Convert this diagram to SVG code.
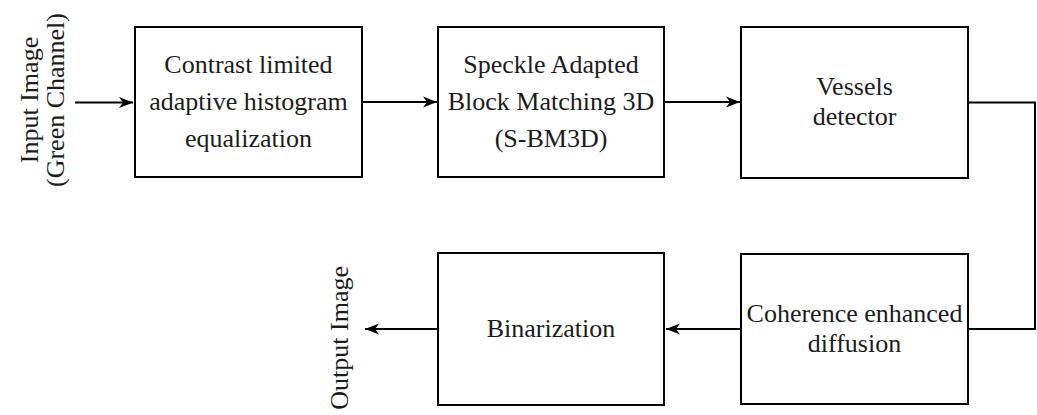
<svg xmlns="http://www.w3.org/2000/svg" width="1037" height="415" viewBox="0 0 1037 415">
  <style>
    .box { fill: #ffffff; stroke: #000000; stroke-width: 2; }
    .wire { fill: none; stroke: #000000; stroke-width: 2; }
    .lbl { font-size: 26px; fill: #1c1c1c; text-anchor: middle; }
  </style>
  <defs>
    <marker id="stealth" markerUnits="userSpaceOnUse" markerWidth="18" markerHeight="14" refX="0" refY="0" viewBox="-16 -7 18 14" orient="auto" overflow="visible">
      <path d="M0,0 L-14,-5.5 L-10,0 L-14,5.5 Z" fill="#000000"/>
    </marker>
  </defs>

  <rect width="1037" height="415" fill="#ffffff"/>

  <g font-family="'Liberation Serif', 'Times New Roman', serif">
    <!-- input / output side labels -->
    <g id="input-label">
      <text class="lbl" transform="translate(38,100) rotate(-90)">Input Image</text>
      <text class="lbl" transform="translate(64,100) rotate(-90)">(Green Channel)</text>
    </g>
    <g id="output-label">
      <text class="lbl" style="text-anchor:end" transform="translate(348,266) rotate(-90)">Output Image</text>
    </g>

    <!-- processing blocks -->
    <g id="clahe">
      <rect class="box" x="135" y="27" width="227" height="150"/>
      <text class="lbl" x="248.5" y="73">Contrast limited</text>
      <text class="lbl" x="248.5" y="110">adaptive histogram</text>
      <text class="lbl" x="248.5" y="147">equalization</text>
    </g>
    <g id="sbm3d">
      <rect class="box" x="438" y="27" width="226" height="150"/>
      <text class="lbl" x="551" y="73">Speckle Adapted</text>
      <text class="lbl" x="551" y="110">Block Matching 3D</text>
      <text class="lbl" x="551" y="147">(S-BM3D)</text>
    </g>
    <g id="vessels">
      <rect class="box" x="741" y="27" width="227" height="151"/>
      <text class="lbl" x="854.5" y="95">Vessels</text>
      <text class="lbl" x="854.5" y="125">detector</text>
    </g>
    <g id="coherence">
      <rect class="box" x="741" y="254" width="227" height="150"/>
      <text class="lbl" x="854.5" y="322">Coherence enhanced</text>
      <text class="lbl" x="854.5" y="352">diffusion</text>
    </g>
    <g id="binarization">
      <rect class="box" x="438" y="253" width="226" height="152"/>
      <text class="lbl" x="551" y="337">Binarization</text>
    </g>
  </g>

  <!-- connectors -->
  <g id="connectors">
    <line class="wire" x1="75" y1="102.5" x2="133" y2="102.5" marker-end="url(#stealth)"/>
    <line class="wire" x1="362" y1="102" x2="437" y2="102" marker-end="url(#stealth)"/>
    <line class="wire" x1="664" y1="102" x2="740" y2="102" marker-end="url(#stealth)"/>
    <path class="wire" d="M968,102.5 H1035 V329 H968"/>
    <line class="wire" x1="741" y1="329" x2="666" y2="329" marker-end="url(#stealth)"/>
    <line class="wire" x1="438" y1="329" x2="365" y2="329" marker-end="url(#stealth)"/>
  </g>
</svg>
